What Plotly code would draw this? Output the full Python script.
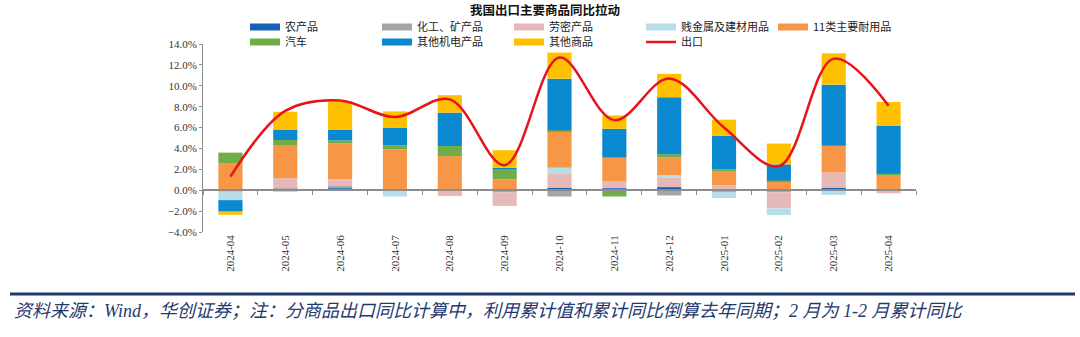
import plotly.graph_objects as go

months = ["2024-04", "2024-05", "2024-06", "2024-07", "2024-08", "2024-09", "2024-10",
          "2024-11", "2024-12", "2025-01", "2025-02", "2025-03", "2025-04"]

agri = [0.0, 0.05, 0.2, 0.0, 0.0, 0.0, 0.25, 0.2, 0.3, 0.0, 0.0, 0.25, 0.0]
chem = [-0.05, 0.15, 0.2, -0.05, -0.05, -0.2, -0.6, 0.0, -0.5, -0.15, -0.2, 0.0, 0.1]
labor = [-0.1, 0.96, 0.67, 0.0, -0.5, -1.3, 1.3, 0.64, 0.93, 0.5, -1.54, 1.44, -0.3]
metal = [-0.8, -0.1, 0.0, -0.55, 0.0, 0.0, 0.6, 0.0, 0.2, -0.6, -0.64, -0.45, 0.0]
durable = [2.6, 3.1, 3.4, 3.9, 3.27, 1.06, 3.46, 2.28, 1.7, 1.28, 0.87, 2.56, 1.4]
auto = [1.0, 0.55, 0.3, 0.4, 0.96, 0.9, 0.13, -0.6, 0.32, 0.2, 0.06, 0.06, 0.1]
mech = [-1.1, 1.0, 1.0, 1.7, 3.2, 0.2, 4.94, 2.76, 5.45, 3.24, 1.54, 5.8, 4.55]
other = [-0.3, 1.7, 2.75, 1.55, 1.67, 1.67, 2.5, 1.28, 2.24, 1.54, 2.0, 3.0, 2.3]
export = [1.3, 7.6, 8.6, 7.0, 8.7, 2.4, 12.7, 6.7, 10.7, 6.0, 2.3, 12.6, 8.1]

series = [
    ("农产品", agri, "#1560B8", "legend"),
    ("化工、矿产品", chem, "#A5A5A5", "legend"),
    ("劳密产品", labor, "#E6B9B8", "legend"),
    ("贱金属及建材用品", metal, "#B7DEE8", "legend"),
    ("11类主要耐用品", durable, "#F79646", "legend"),
    ("汽车", auto, "#70AD47", "legend2"),
    ("其他机电产品", mech, "#0A88D0", "legend2"),
    ("其他商品", other, "#FFC000", "legend2"),
]

Y_MIN, Y_MAX = -4, 14
W, H = 1080, 337
ML, MR, MT, MB = 203, 164, 44, 105
PW, PH = W - ML - MR, H - MT - MB

def px_x(px):
    return (px - ML) / PW

def px_y(py):
    return 1 + (MT - py) / PH

FONT = "Liberation Serif, Noto Sans CJK SC, serif"
LFONT = "Noto Sans CJK SC, Liberation Serif"

fig = go.Figure()
for name, vals, color, lg in series:
    fig.add_trace(go.Bar(x=months, y=vals, name=name, marker=dict(color=color, line=dict(width=0)),
                         showlegend=False))
    fig.add_trace(go.Scatter(x=[None], y=[None], mode="lines", name=name,
                             line=dict(color=color, width=7), legend=lg, hoverinfo="skip"))

fig.add_trace(go.Scatter(x=months, y=export, name="出口", mode="lines",
                         line=dict(color="#E8141B", width=2.5, shape="spline", smoothing=1.0),
                         xaxis="x2", yaxis="y", legend="legend2"))

n = len(months)
fig.update_layout(
    width=W, height=H,
    margin=dict(l=ML, r=MR, t=MT, b=MB),
    paper_bgcolor="white", plot_bgcolor="white",
    barmode="relative", bargap=0.56,
    xaxis=dict(type="category", categoryorder="array", categoryarray=months,
               range=[-0.5, n - 0.5], showline=False, ticks="", showgrid=False,
               tickangle=-90, tickfont=dict(family=FONT, size=11, color="#333")),
    xaxis2=dict(type="category", categoryorder="array", categoryarray=months,
                range=[-0.5, n - 0.5], overlaying="x", anchor="free",
                position=(0 - Y_MIN) / (Y_MAX - Y_MIN),
                showline=True, linecolor="#8c8c8c", linewidth=1.5,
                ticks="outside", tickson="boundaries", ticklen=4, tickcolor="#8c8c8c",
                showticklabels=False, showgrid=False),
    yaxis=dict(range=[Y_MIN, Y_MAX], dtick=2, tickformat=".1f", ticksuffix="%",
               showline=True, linecolor="#8c8c8c", linewidth=1, ticks="outside", ticklen=3,
               tickcolor="#8c8c8c", showgrid=False, zeroline=False,
               tickfont=dict(family=FONT, size=11, color="#333")),
    legend=dict(orientation="h", x=px_x(245), xanchor="left", y=px_y(27), yanchor="middle",
                entrywidth=87, entrywidthmode="pixels", font=dict(family=LFONT, size=11, color="#222"),
                bgcolor="rgba(0,0,0,0)", traceorder="normal"),
    legend2=dict(orientation="h", x=px_x(245), xanchor="left", y=px_y(42), yanchor="middle",
                 entrywidth=87, entrywidthmode="pixels", font=dict(family=LFONT, size=11, color="#222"),
                 bgcolor="rgba(0,0,0,0)", traceorder="normal"),
    shapes=[dict(type="line", xref="paper", yref="paper", x0=px_x(10), x1=px_x(1075),
                 y0=px_y(294), y1=px_y(294), line=dict(color="#1F3A6E", width=3))],
    annotations=[
        dict(text="<b>我国出口主要商品同比拉动</b>", xref="paper", yref="paper",
             x=px_x(545), y=px_y(9), xanchor="center", yanchor="middle", showarrow=False,
             font=dict(family=LFONT, size=12.5, color="#111")),
        dict(text="资料来源：Wind，华创证券；注：分商品出口同比计算中，利用累计值和累计同比倒算去年同期；2 月为 1-2 月累计同比",
             xref="paper", yref="paper", x=px_x(12), y=px_y(311), xanchor="left", yanchor="middle",
             showarrow=False, font=dict(family=FONT, size=18, color="#1F3A6E", style="italic")),
    ],
)

fig.write_html("out.html")
